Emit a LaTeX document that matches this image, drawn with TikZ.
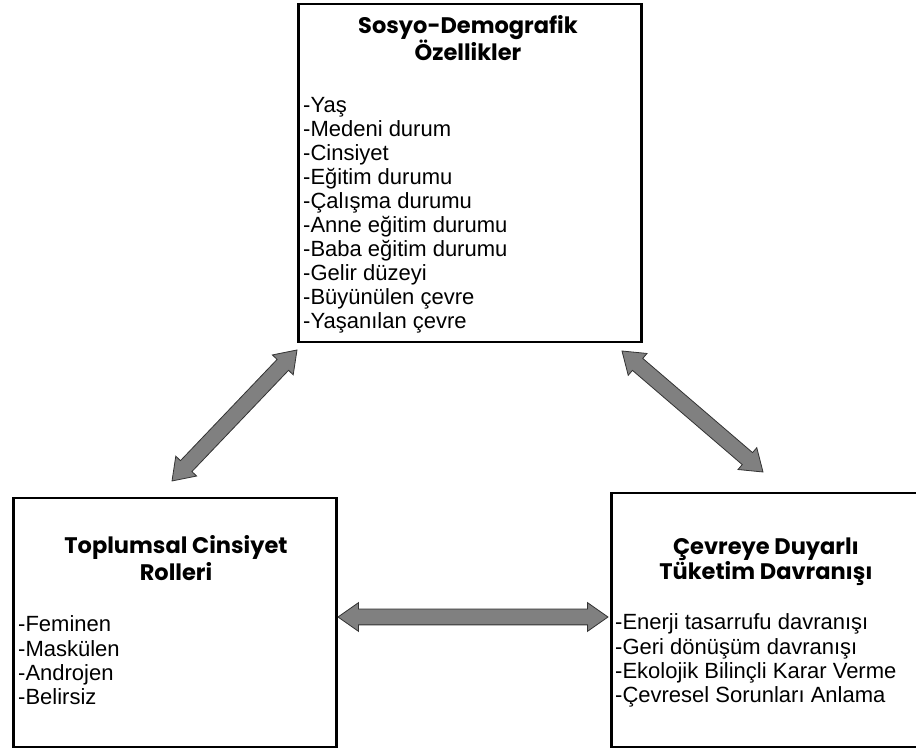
\documentclass[tikz,border=0pt]{standalone}
\usepackage{fontspec}
\setmainfont{Liberation Sans}
\newfontfamily\headfont{Poppins}
\usetikzlibrary{positioning,calc,shapes.arrows}

\begin{document}
\begin{tikzpicture}[
x=1pt, y=1pt,
boxnode/.style={
  draw,
  line width=2.5pt,
  anchor=north west,
  inner sep=0pt
  },
headnode/.style={
  font=\headfont\bfseries\fontsize{22.5}{26}\selectfont,
  align=center,
  anchor=north,
  inner sep=0pt
  },
itemnode/.style={
  font=\fontsize{22}{24}\selectfont,
  anchor=base west,
  inner sep=0pt
  },
bigarrow/.style={
  double arrow,
  draw=black!80,
  fill=black!50,
  line width=0.8pt,
  minimum width=28pt,
  double arrow head extend=6.5pt,
  double arrow tip angle=70,
  inner sep=7.5pt
  }
]
\useasboundingbox (0,0) rectangle (916,749);
% boxes
\node[boxnode, minimum width=343pt, minimum height=338pt] (sdbox) at (297,746) {};
\node[boxnode, minimum width=323pt, minimum height=249pt] (tcbox) at (12,252) {};
\node[boxnode, minimum width=312pt, minimum height=254pt] (cebox) at (610,257) {};
% headings
\node[headnode] (sdhead) at (468,734) {Sosyo-Demografik\\Özellikler};
\node[headnode, font=\headfont\bfseries\fontsize{22.5}{27}\selectfont] (tchead) at (176,214) {Toplumsal Cinsiyet\\Rolleri};
\node[headnode, font=\headfont\bfseries\fontsize{22.5}{23}\selectfont] (cehead) at (766,211) {Çevreye Duyarlı\\Tüketim Davranışı};
% items
\foreach \txt [count=\i] in {-Yaş,-Medeni durum,-Cinsiyet,-Eğitim durumu,-Çalışma durumu,-Anne eğitim durumu,-Baba eğitim durumu,-Gelir düzeyi,-Büyünülen çevre,-Yaşanılan çevre}
  \node[itemnode] (sd\i) at (303,{636-24*(\i-1)}) {\txt};
\foreach \txt [count=\i] in {-Feminen,-Maskülen,-Androjen,-Belirsiz}
  \node[itemnode] (tc\i) at (18,{117-24.3*(\i-1)}) {\txt};
\foreach \txt [count=\i] in {-Enerji tasarrufu davranışı,-Geri dönüşüm davranışı,-Ekolojik Bilinçli Karar Verme,-Çevresel Sorunları Anlama}
  \node[itemnode] (ce\i) at (615,{119-24.3*(\i-1)}) {\txt};
% arrows
\coordinate (sdL) at (297,399);
\coordinate (tcT) at (172,268);
\coordinate (sdR) at (622,398);
\coordinate (ceT) at (763,277);
\coordinate (tcR) at (338,132);
\coordinate (ceL) at (608,132);
\foreach \from/\to/\name in {sdL/tcT/arrA,sdR/ceT/arrB,tcR/ceL/arrC}
  \path let \p1=($(\to)-(\from)$), \n1={veclen(\x1,\y1)}, \n2={atan2(\y1,\x1)} in
    node[bigarrow, minimum height=\n1, rotate=\n2] (\name) at ($(\from)!0.5!(\to)$) {};
\end{tikzpicture}
\end{document}
